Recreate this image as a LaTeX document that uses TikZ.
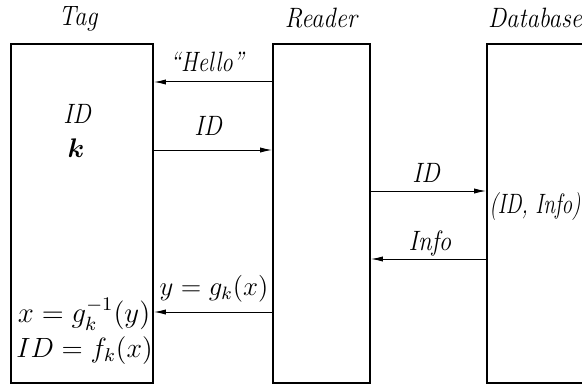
\documentclass[tikz,border=0pt]{standalone}
\usepackage{amsmath}
\usepackage{graphicx}
\usetikzlibrary{arrows.meta}
\newcommand{\condtxt}[2][0.88]{\scalebox{#1}[1]{#2}}
\newcommand{\bigmth}[2][1.12]{\scalebox{#1}{$#2$}}
\begin{document}
\begin{tikzpicture}[x=0.5pt,y=-0.5pt,
  box/.style={draw,line width=0.9pt,inner sep=0pt,minimum height=169.5pt},
  lbl/.style={font={\fontsize{14}{16}\selectfont\itshape},inner sep=0pt,anchor=base},
  mth/.style={font={\fontsize{12}{14}\selectfont},inner sep=0pt,anchor=base},
  msg/.style={line width=0.5pt,-{Latex[length=6pt,width=2.6pt]}}]
\useasboundingbox (0,0) rectangle (582,390);
\clip (0,0) rectangle (582,390);
% boxes
\node[box,minimum width=71pt] (tag) at (82,213.5) {};
\node[box,minimum width=48.5pt] (reader) at (321.5,213.5) {};
\node[box,minimum width=70pt] (db) at (557,213.5) {};
% titles
\node[lbl] (ttag) at (78,26) {\condtxt{Tag}};
\node[lbl] (trdr) at (321,28) {\condtxt{Reader}};
\node[lbl] (tdb) at (535,28) {\condtxt{Database}};
% tag contents
\node[lbl] (tid) at (77,123) {\condtxt{ID}};
\node[mth] (tk) at (76,157) {\bigmth[1.12]{\boldsymbol{k}}};
\node[mth] (eqx) at (84,322) {\bigmth[1.2]{x=g_k^{-1}(y)}};
\node[mth] (eqid) at (84.5,357) {\bigmth[1.16]{ID=f_k(x)}};
% database contents
\node[lbl] (dbc) at (535,213) {\condtxt[0.76]{(ID, Info)}};
% y-levels
\coordinate (y1) at (0,82);
\coordinate (y2) at (0,150);
\coordinate (y3) at (0,191);
\coordinate (y4) at (0,259);
\coordinate (y5) at (0,312);
% messages
\draw[msg] (reader.west |- y1) -- (tag.east |- y1);
\node[lbl] (lhello) at (207,72) {\condtxt[0.82]{``Hello''}};
\draw[msg] (tag.east |- y2) -- (reader.west |- y2);
\node[lbl] (lid) at (208,135) {\condtxt{ID}};
\draw[msg] (reader.east |- y3) -- (db.west |- y3);
\node[lbl] (lid2) at (426,182) {\condtxt{ID}};
\draw[msg] (db.west |- y4) -- (reader.east |- y4);
\node[lbl] (linfo) at (430,250) {\condtxt{Info}};
\draw[msg] (reader.west |- y5) -- (tag.east |- y5);
\node[mth] (ly) at (214,295) {\bigmth{y=g_k(x)}};
\end{tikzpicture}
\end{document}
